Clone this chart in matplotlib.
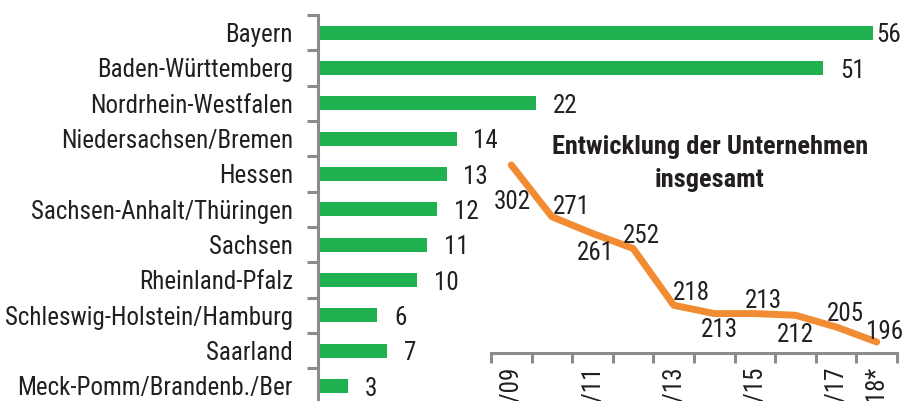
import matplotlib.pyplot as plt
from matplotlib.ticker import FixedLocator

# Unternehmen je Bundesland
laender = ['Bayern', 'Baden-Württemberg', 'Nordrhein-Westfalen', 'Niedersachsen/Bremen',
           'Hessen', 'Sachsen-Anhalt/Thüringen', 'Sachsen', 'Rheinland-Pfalz',
           'Schleswig-Holstein/Hamburg', 'Saarland', 'Meck-Pomm/Brandenb./Ber']
anzahl = [56, 51, 22, 14, 13, 12, 11, 10, 6, 7, 3]

# Entwicklung insgesamt
jahre = ['2008/09', '2009/10', '2010/11', '2011/12', '2012/13', '2013/14',
         '2014/15', '2015/16', '2016/17', '2018*']
gesamt = [302, 271, 261, 252, 218, 213, 213, 212, 205, 196]

gruen = '#1fb050'
orange = '#f28c32'
grau = '#8c8c8c'
text = '#231f20'
schrift = ['Roboto Condensed', 'Liberation Sans Narrow', 'DejaVu Sans']
gr = 18

plt.rcParams['font.family'] = schrift
plt.rcParams['text.color'] = text

fig = plt.figure(figsize=(9.04, 4.01), dpi=100)

# --- Balken ---
ax = fig.add_axes([318 / 904, -2.6 / 401, 586 / 904, 388.6 / 401])
y = list(range(len(laender)))
ax.barh(y, anzahl, height=0.4, color=gruen)
ax.set_ylim(len(laender) - 0.5, -0.5)
ax.set_xlim(0, 586 / 9.91)
ax.set_yticks(y)
ax.set_yticklabels(laender, fontsize=gr, color=text)
ax.yaxis.set_minor_locator(FixedLocator([i - 0.5 for i in range(len(laender) + 1)]))
ax.tick_params(axis='y', which='major', length=0, pad=18)
ax.tick_params(axis='y', which='minor', length=8, width=2.2, color=grau)
ax.set_xticks([])
for s in ['top', 'right', 'bottom']:
    ax.spines[s].set_visible(False)
ax.spines['left'].set_color(grau)
ax.spines['left'].set_linewidth(2.2)
ax.patch.set_alpha(0)

for i, v in enumerate(anzahl):
    abstand = 2.5 if v == max(anzahl) else 12
    ax.annotate(str(v), (v, i), xytext=(abstand, -2), textcoords='offset points',
                ha='left', va='center', fontsize=gr, color=text)

# --- Linie ---
ax2 = fig.add_axes([491 / 904, 48 / 401, 406 / 904, 223 / 401])
x = list(range(len(jahre)))
ax2.plot(x, gesamt, color=orange, linewidth=5, solid_capstyle='round', solid_joinstyle='round')
ax2.set_xlim(-0.5, len(jahre) - 0.5)
ax2.set_ylim(189.4, 189.4 + 223 / 1.67)
ax2.set_xticks(x)
ax2.set_xticklabels([j if (i % 2 == 0 or i == len(jahre) - 1) else '' for i, j in enumerate(jahre)],
                    rotation=90, fontsize=gr, color=text)
ax2.xaxis.set_minor_locator(FixedLocator([i - 0.5 for i in range(len(jahre) + 1)]))
ax2.tick_params(axis='x', which='major', length=0, pad=9)
ax2.tick_params(axis='x', which='minor', length=7, width=2.2, color=grau)
ax2.set_yticks([])
for s in ['top', 'right', 'left']:
    ax2.spines[s].set_visible(False)
ax2.spines['bottom'].set_color(grau)
ax2.spines['bottom'].set_linewidth(2.2)
ax2.patch.set_alpha(0)

# Wertebeschriftung (Versatz in Punkten)
versatz = [(1, -27), (14, 7), (2, -14), (6, 9), (13, 9), (4, -12), (6, 9), (0, -14), (7, 9), (6, 7)]
for i, v in enumerate(gesamt):
    ax2.annotate(str(v), (i, v), xytext=versatz[i], textcoords='offset points',
                 ha='center', va='center', fontsize=gr, color=text)

fig.text(710 / 904, 1 - 147 / 401, 'Entwicklung der Unternehmen', ha='center', va='center',
         fontsize=19, fontweight='bold', color=text)
fig.text(710 / 904, 1 - 180 / 401, 'insgesamt', ha='center', va='center',
         fontsize=19, fontweight='bold', color=text)

fig.savefig('out.png', dpi=100)
